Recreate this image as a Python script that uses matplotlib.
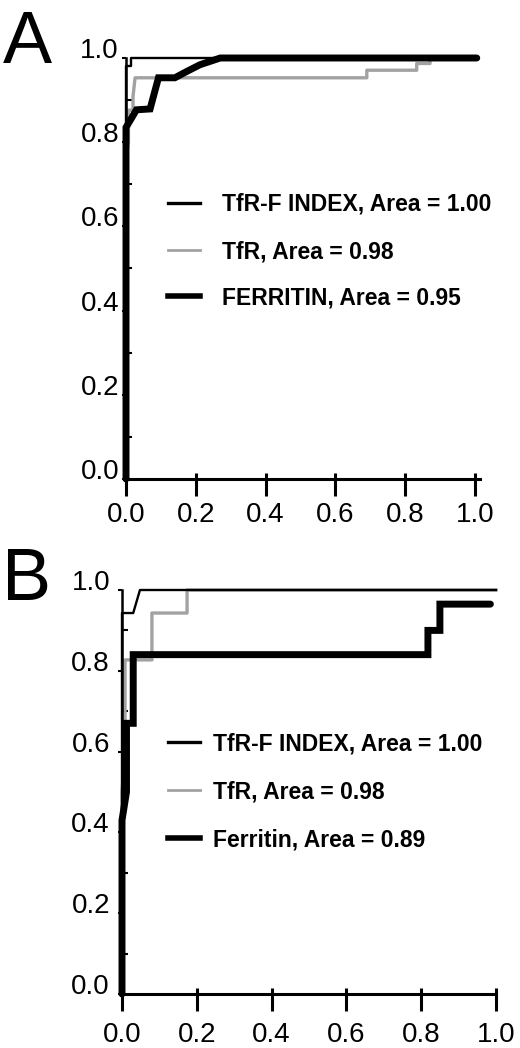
import matplotlib
matplotlib.use("Agg")
import matplotlib.pyplot as plt
from matplotlib.lines import Line2D
from matplotlib.transforms import ScaledTranslation

plt.rcParams['font.family'] = ['Liberation Sans', 'DejaVu Sans']

W, H, DPI = 520, 1048, 100

# ---- data (1 - specificity, sensitivity) ----
# panel A
a_index_x = [0, 0, 0.015, 0.015, 1.0]
a_index_y = [0, 0.98, 0.98, 1.0, 1.0]
a_tfr_x = [0, 0, 0.007, 0.007, 0.02, 0.02, 0.026, 0.69, 0.69, 0.833, 0.833, 0.871, 0.871, 1.0]
a_tfr_y = [0, 0.76, 0.80, 0.876, 0.876, 0.908, 0.953, 0.953, 0.971, 0.971, 0.987, 0.987, 1.0, 1.0]
a_fer_x = [0, 0, 0.03, 0.069, 0.093, 0.14, 0.174, 0.212, 0.27, 1.005]
a_fer_y = [0, 0.835, 0.877, 0.879, 0.953, 0.953, 0.968, 0.984, 1.0, 1.0]

# panel B
b_index_x = [0, 0, 0.03, 0.048, 1.0]
b_index_y = [0, 0.943, 0.943, 1.0, 1.0]
b_tfr_x = [0, 0, 0.008, 0.008, 0.08, 0.08, 0.174, 0.174, 1.0]
b_tfr_y = [0, 0.5, 0.6, 0.827, 0.827, 0.943, 0.943, 1.0, 1.0]
b_fer_x = [0, 0, 0.012, 0.012, 0.03, 0.03, 0.818, 0.818, 0.85, 0.85, 0.985]
b_fer_y = [0, 0.43, 0.5, 0.67, 0.67, 0.84, 0.84, 0.90, 0.90, 0.965, 0.965]

labels_a = ["TfR-F INDEX, Area = 1.00", "TfR, Area = 0.98", "FERRITIN, Area = 0.95"]
labels_b = ["TfR-F INDEX, Area = 1.00", "TfR, Area = 0.98", "Ferritin, Area = 0.89"]

ticks = [0.0, 0.2, 0.4, 0.6, 0.8, 1.0]
tick_labels = ["0.0", "0.2", "0.4", "0.6", "0.8", "1.0"]
minor_y = [0.1, 0.3, 0.5, 0.7, 0.9]

GRAY = '#a2a2a2'

fig = plt.figure(figsize=(W / DPI, H / DPI), dpi=DPI)


def px_axes(x0, x1, y_top, y_bot):
    return fig.add_axes([x0 / W, 1 - y_bot / H, (x1 - x0) / W, (y_bot - y_top) / H])


def style(ax, xmax, xlab_pad, ylab_pad):
    ax.set_xlim(0, xmax)
    ax.set_ylim(0, 1)
    for s in ('top', 'right'):
        ax.spines[s].set_visible(False)
    ax.spines['bottom'].set_linewidth(2.2)
    ax.spines['left'].set_linewidth(1.8)
    ax.spines['bottom'].set_bounds(0, xmax)
    ax.set_xticks(ticks)
    ax.set_xticks(ticks, minor=True)
    ax.xaxis.remove_overlapping_locs = False
    ax.tick_params(axis='x', which='major', direction='out', length=12, width=2.2,
                   labelbottom=False)
    ax.tick_params(axis='x', which='minor', direction='in', length=4.5, width=2.2)
    ax.set_yticks(ticks)
    ax.set_yticks(minor_y, minor=True)
    ax.tick_params(axis='y', which='major', direction='out', length=3, width=1.5,
                   labelleft=False)
    ax.tick_params(axis='y', which='minor', direction='in', length=4, width=1.5)
    # tick labels, drawn by hand to match the offsets of the original
    down = ax.transData + ScaledTranslation(0, -xlab_pad / DPI, fig.dpi_scale_trans)
    left = ax.transData + ScaledTranslation(-ylab_pad / DPI, 0, fig.dpi_scale_trans)
    for v, t in zip(ticks, tick_labels):
        ax.text(v, 0, t, transform=down, ha='center', va='top', fontsize=20, clip_on=False)
        ax.text(0, v, t, transform=left, ha='right', va='baseline', fontsize=20, clip_on=False)


def curves(ax, ix, iy, tx, ty, fx, fy):
    ax.plot(ix, iy, color='black', lw=1.7, clip_on=False, zorder=3)
    ax.plot(tx, ty, color=GRAY, lw=2.4, clip_on=False, zorder=2)
    ax.plot(fx, fy, color='black', lw=5, clip_on=False, zorder=4,
            solid_capstyle='round', solid_joinstyle='miter')


def legend(labels, text_x, ys):
    styles = [dict(color='black', lw=2.4), dict(color=GRAY, lw=2.0),
              dict(color='black', lw=4.0)]
    for lab, y, st in zip(labels, ys, styles):
        fig.add_artist(Line2D([168 / W, 200 / W], [1 - y / H, 1 - y / H],
                              transform=fig.transFigure, **st))
        fig.text(text_x / W, 1 - (y + 8) / H, lab, fontsize=16.5, fontweight='bold',
                 ha='left', va='baseline')


# panel A: x 0 -> 126 px, 1 -> 475 px; y 0 -> 479 px, 1 -> 58 px
axA = px_axes(126, 126 + 349 * 1.015, 58, 479)
style(axA, 1.015, 23, 7)
curves(axA, a_index_x, a_index_y, a_tfr_x, a_tfr_y, a_fer_x, a_fer_y)
legend(labels_a, 222, [203, 250, 296])

# panel B: x 0 -> 122 px, 1 -> 496 px; y 0 -> 994 px, 1 -> 590 px
axB = px_axes(122, 496, 590, 994)
style(axB, 1.0, 28, 12)
curves(axB, b_index_x, b_index_y, b_tfr_x, b_tfr_y, b_fer_x, b_fer_y)
legend(labels_b, 213, [742, 790, 838])

fig.text(3 / W, 1 - 63 / H, "A", fontsize=53, ha='left', va='baseline')
fig.text(2 / W, 1 - 600 / H, "B", fontsize=53, ha='left', va='baseline')

fig.savefig("out.png", dpi=DPI)
